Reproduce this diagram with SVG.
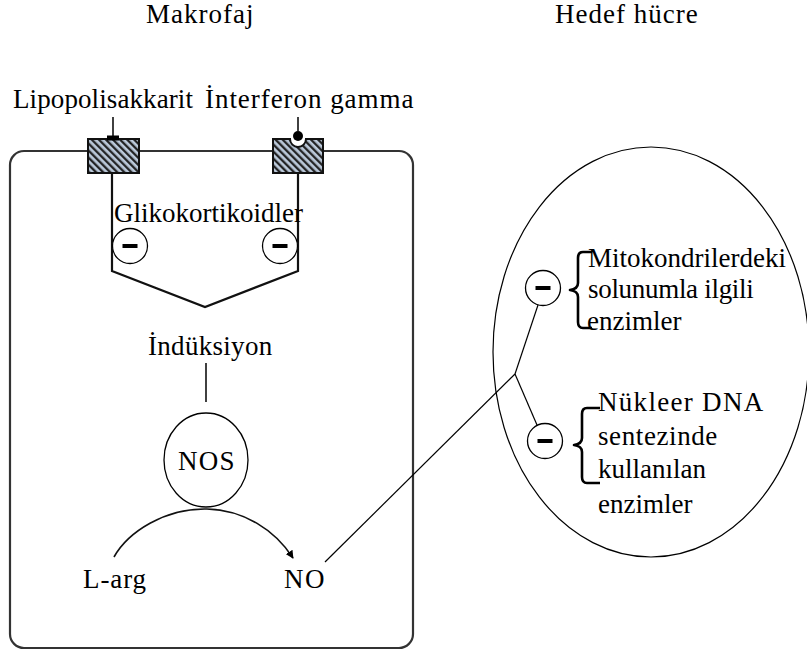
<svg xmlns="http://www.w3.org/2000/svg" width="807" height="657" viewBox="0 0 807 657">
  <defs>
    <pattern id="hatch" patternUnits="userSpaceOnUse" width="5" height="5" patternTransform="rotate(-45)">
      <rect width="5" height="5" fill="#bccadb"/>
      <line x1="1.2" y1="0" x2="1.2" y2="5" stroke="#1a1a1a" stroke-width="2.2"/>
    </pattern>
    <marker id="arrow" viewBox="0 0 10 10" refX="9" refY="5" markerWidth="8" markerHeight="8" markerUnits="userSpaceOnUse" orient="auto">
      <path d="M0,0 L10,5 L0,10 Z" fill="#000"/>
    </marker>
    <g id="minus">
      <circle r="17.5" fill="#fff" stroke="#000" stroke-width="1.3"/>
      <rect x="-7.5" y="-2" width="15" height="4" fill="#000"/>
    </g>
  </defs>
  <style>
    .thin { fill: none; stroke: #000; stroke-width: 1.2; }
    .mid { fill: none; stroke: #111; stroke-width: 1.6; }
    .thick { fill: none; stroke: #111; stroke-width: 2.2; }
    .brace { fill: none; stroke: #000; stroke-width: 2.6; stroke-linejoin: round; }
  </style>

  <rect width="807" height="657" fill="#fff"/>

  <!-- macrophage cell -->
  <g id="macrophage">
    <rect x="10" y="151" width="403" height="497" rx="14" ry="14" fill="none" stroke="#333" stroke-width="2.2"/>
  </g>

  <!-- connectors -->
  <g id="connectors">
    <line class="mid" x1="113" y1="117" x2="113" y2="137"/>
    <line class="mid" x1="298" y1="117" x2="298" y2="131"/>
    <polyline class="thick" points="112,173 112,271 205,307 298,271 298,173"/>
    <line class="mid" x1="206" y1="363" x2="206" y2="402"/>
    <path class="mid" d="M114,557 C128,532 165,508 207,509 C244,510 275,530 293,558" marker-end="url(#arrow)"/>
    <line class="thin" x1="325" y1="562" x2="515" y2="374"/>
    <line class="thin" x1="515" y1="374" x2="538" y2="305"/>
    <line class="thin" x1="515" y1="374" x2="537" y2="425"/>
  </g>

  <g font-family="'Liberation Serif', serif" font-size="27" fill="#000">
  <!-- titles -->
  <g id="title-macrophage"><text x="146" y="23" letter-spacing="1">Makrofaj</text></g>
  <g id="title-target"><text x="555" y="23" letter-spacing="1">Hedef hücre</text></g>

  <!-- receptors on the membrane -->
  <g id="receptor-lps">
    <rect x="88" y="139" width="51" height="34" fill="url(#hatch)" stroke="#111" stroke-width="2"/>
    <rect x="107" y="135.5" width="12" height="5" fill="#000"/>
    <text x="13" y="108" letter-spacing="0.1">Lipopolisakkarit</text>
  </g>
  <g id="receptor-ifn">
    <path d="M273,139 H290 A8,8 0 0 0 306,139 H323 V173 H273 Z" fill="url(#hatch)" stroke="#111" stroke-width="2"/>
    <circle cx="298" cy="136" r="5" fill="#000"/>
    <text x="205" y="108" letter-spacing="0.95">İnterferon gamma</text>
  </g>

  <!-- glucocorticoid inhibition -->
  <g id="glucocorticoids">
    <text x="114" y="222">Glikokortikoidler</text>
    <use href="#minus" x="130" y="246"/>
    <use href="#minus" x="280" y="246"/>
  </g>

  <g id="induction"><text x="148" y="355" letter-spacing="0.3">İndüksiyon</text></g>

  <g id="nos">
    <ellipse cx="206" cy="460" rx="42" ry="47" fill="none" stroke="#000" stroke-width="1.3"/>
    <text x="178" y="470" letter-spacing="1.3">NOS</text>
  </g>

  <g id="l-arg"><text x="83" y="588" letter-spacing="0.9">L-arg</text></g>
  <g id="no"><text x="284" y="588" letter-spacing="1.5">NO</text></g>

  <!-- target cell -->
  <g id="target-cell">
    <ellipse cx="651" cy="352" rx="158" ry="205" fill="none" stroke="#000" stroke-width="1.2"/>
  </g>

  <g id="mito-enzymes">
    <use href="#minus" x="543" y="288"/>
    <path class="brace" d="M592,252 H583 Q578,252 578,258 V283 Q578,289 570,290 Q578,291 578,297 V322 Q578,328 583,328 H592"/>
    <text x="588" y="267">Mitokondrilerdeki</text>
    <text x="588" y="298" letter-spacing="-0.3">solunumla ilgili</text>
    <text x="587" y="330">enzimler</text>
  </g>

  <g id="dna-enzymes">
    <use href="#minus" x="545" y="441"/>
    <path class="brace" d="M600,408 H587 Q582,408 582,414 V438 Q582,444 574,445 Q582,446 582,452 V477 Q582,483 587,483 H600"/>
    <text x="598" y="411" letter-spacing="1.3">Nükleer DNA</text>
    <text x="598" y="445" letter-spacing="0.6">sentezinde</text>
    <text x="598" y="478">kullanılan</text>
    <text x="598" y="513">enzimler</text>
  </g>
  </g>
</svg>
